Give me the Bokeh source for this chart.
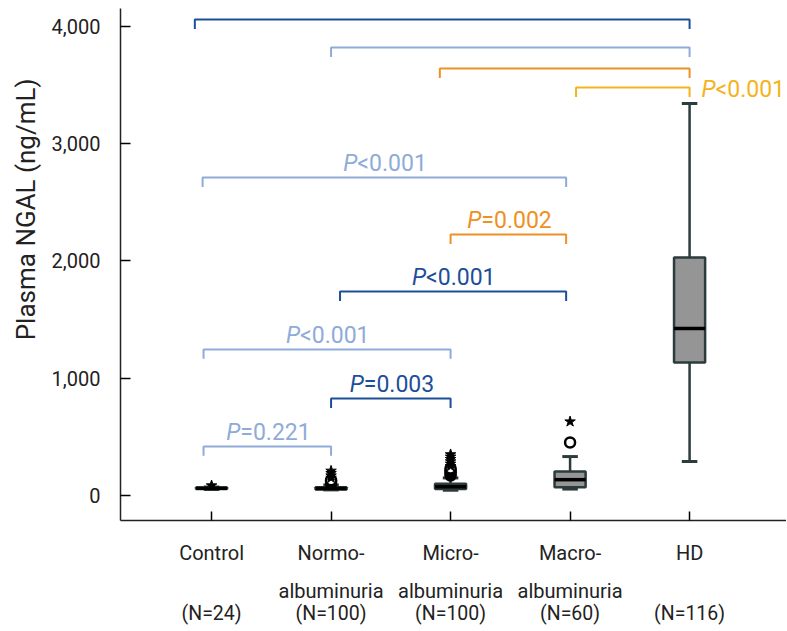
from bokeh.plotting import figure
from bokeh.models import FixedTicker, NumeralTickFormatter, LinearAxis, Range1d, ColumnDataSource, Title
from bokeh.core.properties import value
from bokeh.embed import file_html
from bokeh.resources import INLINE

# ---------------- data ----------------
groups = ["Control", "Normo-\nalbuminuria", "Micro-\nalbuminuria", "Macro-\nalbuminuria", "HD"]
group_n = ["(N=24)", "(N=100)", "(N=100)", "(N=60)", "(N=116)"]
whisker_low = [52, 48, 45, 55, 290]
q1 = [55, 52, 55, 70, 1134]
median = [62, 60, 75, 135, 1424]
q3 = [68, 70, 100, 205, 2029]
whisker_high = [72, 90, 150, 332, 3342]

circle_group = [1, 1, 1, 2, 2, 2, 2, 2, 3]
circle_value = [100, 115, 130, 170, 185, 200, 215, 230, 452]
star_group = [0, 1, 1, 1, 1, 2, 2, 2, 2, 2, 2, 3]
star_value = [85, 150, 170, 190, 210, 250, 270, 290, 310, 330, 350, 630]

cmp_a = [0, 1, 2, 3, 0, 2, 1, 0, 1, 0]
cmp_b = [4, 4, 4, 4, 3, 3, 3, 2, 2, 1]
p_text = ["", "", "", "<0.001", "<0.001", "=0.002", "<0.001", "<0.001", "=0.003", "=0.221"]

y_ticks = [0, 1000, 2000, 3000, 4000]
y_title = "Plasma NGAL (ng/mL)"

# ---------------- layout / style ----------------
DARK = "#1d4f98"
LIGHT = "#8fabd9"
ORANGE = "#ef9025"
YELLOW = "#f4b31c"
br_color = [DARK, LIGHT, ORANGE, YELLOW, LIGHT, ORANGE, DARK, LIGHT, DARK, LIGHT]
br_level = [4058, 3819, 3640, 3478, 2711, 2225, 1739, 1245, 827, 418]
br_dx_a = [-0.14, 0.0, -0.09, 0.05, -0.075, 0.0, 0.075, -0.067, 0.0, -0.067]
br_dx_b = [0.0, 0.0, 0.0, 0.0, -0.033, -0.033, -0.033, 0.0, 0.0, 0.0]
br_drop = 80
FONT = "Roboto"
TXT = "#222222"
P_SIZE = "23px"
P_OFF = -27
BOX_W = 0.26
CAP_W = 0.13

xs = list(range(len(groups)))

p = figure(frame_width=666, frame_height=512, output_backend="svg", toolbar_location=None,
           x_range=Range1d(-0.762, 4.811), y_range=Range1d(-213, 4152),
           min_border_left=120, min_border_right=0, min_border_top=8, min_border_bottom=0)
p.outline_line_color = None
p.grid.visible = False
p.background_fill_color = "white"

# brackets
bx, by = [], []
for a, b, lvl, da, db in zip(cmp_a, cmp_b, br_level, br_dx_a, br_dx_b):
    x0, x1 = a + da, b + db
    bx.append([x0, x0, x1, x1])
    by.append([lvl - br_drop, lvl, lvl, lvl - br_drop])
p.multi_line(bx, by, line_color=br_color, line_width=2)

# bracket labels
lab_x, lab_y, lab_t, lab_c = [], [], [], []
for a, b, lvl, da, db, t, c in zip(cmp_a, cmp_b, br_level, br_dx_a, br_dx_b, p_text, br_color):
    if t and b - a < 4 and not (a == 3 and b == 4):
        lab_x.append((a + da + b + db) / 2)
        lab_y.append(lvl)
        lab_t.append(t)
        lab_c.append(c)
src = ColumnDataSource(dict(x=lab_x, y=lab_y, t=lab_t, c=lab_c, p=["P"] * len(lab_x)))
p.text("x", "y", text="p", source=src, text_color="c", text_align="right", text_baseline="alphabetic",
       x_offset=P_OFF, y_offset=-14, text_font=value(FONT), text_font_style="italic", text_font_size=P_SIZE)
p.text("x", "y", text="t", source=src, text_color="c", text_align="left", text_baseline="alphabetic",
       x_offset=P_OFF, y_offset=-14, text_font=value(FONT), text_font_size=P_SIZE)

# right-side label for the top comparisons
top_src = ColumnDataSource(dict(x=[cmp_b[3]], y=[br_level[3]], t=[p_text[3]], p=["P"]))
p.text("x", "y", text="p", source=top_src, text_color=YELLOW, text_align="right", text_baseline="alphabetic",
       x_offset=26, y_offset=2, text_font=value(FONT), text_font_style="italic", text_font_size=P_SIZE)
p.text("x", "y", text="t", source=top_src, text_color=YELLOW, text_align="left", text_baseline="alphabetic",
       x_offset=26, y_offset=2, text_font=value(FONT), text_font_size=P_SIZE)

# box plots
WH = "#2c3b3b"
p.segment(xs, whisker_low, xs, whisker_high, line_color=WH, line_width=2.5)
p.segment([x - CAP_W / 2 for x in xs], whisker_high, [x + CAP_W / 2 for x in xs], whisker_high,
          line_color=WH, line_width=3)
p.segment([x - CAP_W / 2 for x in xs], whisker_low, [x + CAP_W / 2 for x in xs], whisker_low,
          line_color=WH, line_width=3)
p.vbar(x=xs, width=BOX_W, bottom=q1, top=q3, fill_color="#959595", line_color=WH, line_width=2.5)
p.segment([x - BOX_W / 2 for x in xs], median, [x + BOX_W / 2 for x in xs], median,
          line_color="black", line_width=3.5)

p.scatter(circle_group, circle_value, marker="circle", size=10, fill_color="white",
          line_color="black", line_width=2.5)
p.scatter(star_group, star_value, marker="star", size=11, fill_color="black", line_color="black")

# axes
yax = p.yaxis[0]
yax.ticker = FixedTicker(ticks=y_ticks)
yax.formatter = NumeralTickFormatter(format="0,0")
yax.major_label_text_font = FONT
yax.major_label_text_font_size = "20px"
yax.major_label_standoff = 20
yax.major_tick_in = 10
yax.major_tick_out = 0
yax.minor_tick_line_color = None
yax.axis_line_width = 1.5
yax.major_tick_line_width = 1.5
yax.axis_line_color = TXT
yax.major_label_text_color = TXT

ytitle = Title(text=y_title, align="right", offset=70, standoff=15,
               text_font=FONT, text_font_size="26px", text_font_style="normal", text_color=TXT)
p.add_layout(ytitle, "left")

xax = p.xaxis[0]
xax.ticker = FixedTicker(ticks=xs)
xax.major_label_overrides = {i: g for i, g in enumerate(groups)}
xax.major_label_text_font = FONT
xax.major_label_text_font_size = "20px"
xax.major_label_text_line_height = 1.6
xax.major_label_standoff = 20
xax.major_tick_in = 9
xax.major_tick_out = 0
xax.minor_tick_line_color = None
xax.axis_line_width = 1.5
xax.major_tick_line_width = 1.5
xax.axis_line_color = TXT
xax.major_label_text_color = TXT

nax = LinearAxis(ticker=FixedTicker(ticks=xs),
                 major_label_overrides={i: n for i, n in enumerate(group_n)})
nax.axis_line_color = None
nax.major_tick_line_color = None
nax.minor_tick_line_color = None
nax.major_tick_in = 0
nax.major_tick_out = 0
nax.major_label_standoff = -4
nax.major_label_text_font = FONT
nax.major_label_text_font_size = "19.5px"
nax.major_label_text_color = TXT
p.add_layout(nax, "below")

open("out.html", "w").write(file_html(p, INLINE))
